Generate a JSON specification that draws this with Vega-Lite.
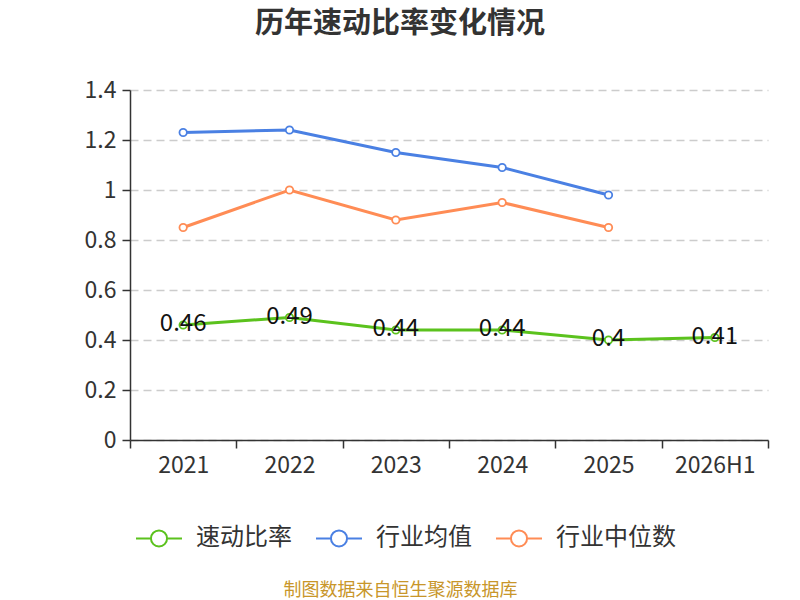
{
  "$schema": "https://vega.github.io/schema/vega-lite/v6.json",
  "width": 638,
  "height": 350,
  "autosize": "none",
  "padding": {"left": 130, "top": 90, "right": 32, "bottom": 160},
  "background": "white",
  "config": {
    "font": "Noto Sans CJK SC",
    "view": {"stroke": null}
  },
  "title": {
    "text": "历年速动比率变化情况",
    "fontSize": 29,
    "fontWeight": "bold",
    "color": "#333333",
    "anchor": "middle",
    "dx": -49,
    "offset": 40
  },
  "data": {
    "values": [
      {"year": "2021", "series": "速动比率", "value": 0.46},
      {"year": "2022", "series": "速动比率", "value": 0.49},
      {"year": "2023", "series": "速动比率", "value": 0.44},
      {"year": "2024", "series": "速动比率", "value": 0.44},
      {"year": "2025", "series": "速动比率", "value": 0.40},
      {"year": "2026H1", "series": "速动比率", "value": 0.41},
      {"year": "2021", "series": "行业均值", "value": 1.23},
      {"year": "2022", "series": "行业均值", "value": 1.24},
      {"year": "2023", "series": "行业均值", "value": 1.15},
      {"year": "2024", "series": "行业均值", "value": 1.09},
      {"year": "2025", "series": "行业均值", "value": 0.98},
      {"year": "2021", "series": "行业中位数", "value": 0.85},
      {"year": "2022", "series": "行业中位数", "value": 1.0},
      {"year": "2023", "series": "行业中位数", "value": 0.88},
      {"year": "2024", "series": "行业中位数", "value": 0.95},
      {"year": "2025", "series": "行业中位数", "value": 0.85}
    ]
  },
  "encoding": {
    "x": {
      "field": "year",
      "type": "ordinal",
      "scale": {"type": "band", "paddingInner": 0, "paddingOuter": 0},
      "axis": {
        "title": "制图数据来自恒生聚源数据库",
        "titleColor": "#c8962a",
        "titleFontSize": 18,
        "titleFontWeight": "normal",
        "titleX": 270,
        "titleY": 150,
        "titleBaseline": "middle",
        "titleAlign": "center",
        "labelAngle": 0,
        "labelFontSize": 23,
        "labelColor": "#333333",
        "labelPadding": 6,
        "tickBand": "extent",
        "tickSize": 8,
        "tickColor": "#333333",
        "tickWidth": 1.5,
        "domainColor": "#333333",
        "domainWidth": 1.5,
        "grid": false
      }
    },
    "y": {
      "field": "value",
      "type": "quantitative",
      "scale": {"domain": [0, 1.4]},
      "axis": {
        "title": null,
        "values": [0, 0.2, 0.4, 0.6, 0.8, 1, 1.2, 1.4],
        "format": "~g",
        "labelFontSize": 23,
        "labelColor": "#333333",
        "labelPadding": 6,
        "tickSize": 8,
        "tickColor": "#333333",
        "tickWidth": 1.5,
        "domainColor": "#333333",
        "domainWidth": 1.5,
        "grid": true,
        "gridColor": "#cccccc",
        "gridDash": [8, 5],
        "gridWidth": 1.5
      }
    },
    "color": {
      "field": "series",
      "type": "nominal",
      "sort": ["速动比率", "行业均值", "行业中位数"],
      "scale": {
        "domain": ["速动比率", "行业均值", "行业中位数"],
        "range": ["#5bc21d", "#4a80e3", "#ff8c55"]
      },
      "legend": {
        "orient": "none",
        "direction": "horizontal",
        "legendX": 5,
        "legendY": 424,
        "title": null,
        "labelFontSize": 24,
        "labelColor": "#333333",
        "labelOffset": 13,
        "columnPadding": 20,
        "symbolSize": 2116,
        "symbolStrokeWidth": 2,
        "encode": {
          "symbols": {
            "update": {
              "shape": {"value": "M-1,0H-0.35M0.35,0H1M0.35,0A0.35,0.35 0 1,1 -0.35,0A0.35,0.35 0 1,1 0.35,0"},
              "fill": {"value": "white"},
              "strokeWidth": {"value": 2}
            }
          }
        }
      }
    }
  },
  "layer": [
    {
      "mark": {"type": "line", "strokeWidth": 3}
    },
    {
      "mark": {"type": "point", "shape": "circle", "filled": false, "fill": "white", "size": 55, "strokeWidth": 1.8, "opacity": 1}
    },
    {
      "transform": [{"filter": "datum.series === '速动比率'"}],
      "mark": {"type": "text", "fontSize": 24, "baseline": "middle", "align": "center", "dy": -1},
      "encoding": {
        "text": {"field": "value", "type": "quantitative"},
        "color": {"value": "#111111"}
      }
    }
  ]
}
